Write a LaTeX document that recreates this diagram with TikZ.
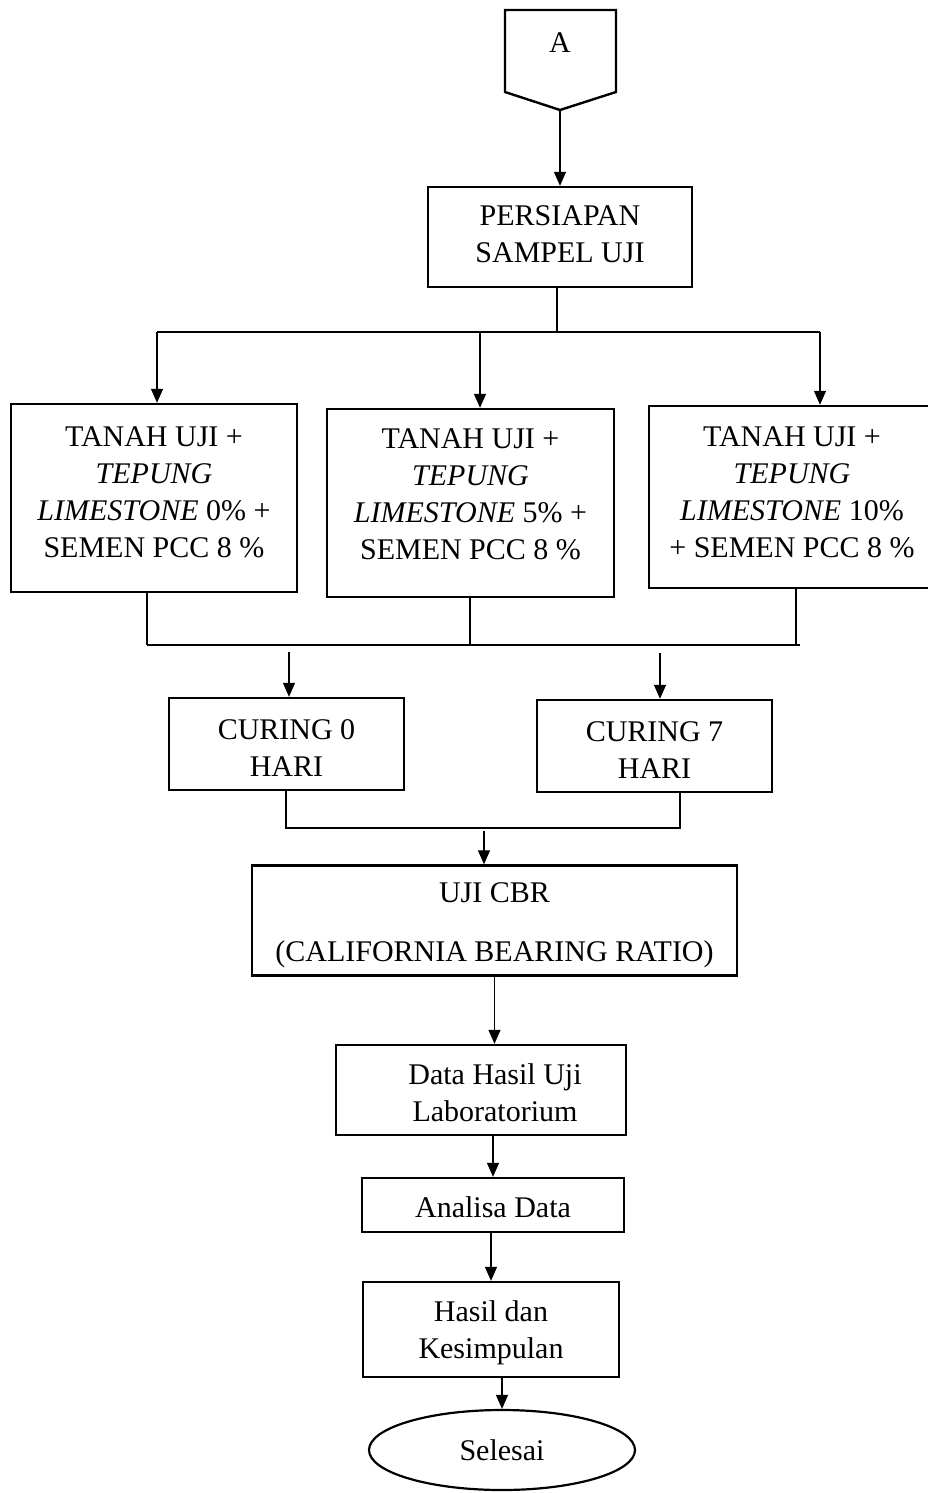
\documentclass[tikz,border=0pt]{standalone}
\usepackage{fontspec}
\setmainfont{Liberation Serif}
\usetikzlibrary{arrows.meta,shapes.geometric}
\newcommand\fsz{\fontsize{30}{37}\selectfont}
\tikzset{
  box/.style={draw, line width=2.4pt, inner sep=0pt},
  txt/.style={align=center, font=\fsz, inner sep=0pt},
  conn/.style={line width=1.3pt},
  arr/.style={conn, -{Triangle[length=14pt,width=12pt]}},
}
\begin{document}
\begin{tikzpicture}[x=1pt,y=-1pt]
\useasboundingbox[fill=white] (0,0) rectangle (927,1493);
% off-page connector A
\draw[line width=2.4pt, line join=miter] (505,10) -- (616,10) -- (616,92) -- (560,110) -- (505,92) -- cycle;
\node[txt] (A) at (560,43) {A};
\coordinate (Atip) at (560,110);
% boxes
\node[box, minimum width=264, minimum height=100] (persiapan) at (560,237) {};
\node[txt] (persiapant) at (560,234) {PERSIAPAN\\SAMPEL UJI};
\node[box, minimum width=286, minimum height=188] (b1) at (154,498) {};
\node[txt] (b1t) at (154,492) {TANAH UJI +\\\textit{TEPUNG}\\\textit{LIMESTONE} 0\% +\\SEMEN PCC 8 \%};
\node[box, minimum width=287, minimum height=188] (b2) at (470.5,503) {};
\node[txt] (b2t) at (470.5,494) {TANAH UJI +\\\textit{TEPUNG}\\\textit{LIMESTONE} 5\% +\\SEMEN PCC 8 \%};
\node[box, minimum width=282, minimum height=182] (b3) at (790,497) {};
\node[txt] (b3t) at (792,492) {TANAH UJI +\\\textit{TEPUNG}\\\textit{LIMESTONE} 10\%\\+ SEMEN PCC 8 \%};
\node[box, minimum width=235, minimum height=92] (cur0) at (286.5,744) {};
\node[txt] (cur0t) at (286.5,748) {CURING 0\\HARI};
\node[box, minimum width=235, minimum height=92] (cur7) at (654.5,746) {};
\node[txt] (cur7t) at (654.5,750) {CURING 7\\HARI};
\node[box, minimum width=485, minimum height=110] (uji) at (494.5,920.5) {};
\node[txt] (ujit) at (494.5,925.5) {UJI CBR\\[22pt](CALIFORNIA BEARING RATIO)};
\node[box, minimum width=290, minimum height=90] (data) at (481,1090) {};
\node[txt] (datat) at (495,1093) {Data Hasil Uji\\Laboratorium};
\node[box, minimum width=262, minimum height=54] (analisa) at (493,1205) {};
\node[txt] (analisat) at (493,1207) {Analisa Data};
\node[box, minimum width=256, minimum height=95] (hasil) at (491,1329.5) {};
\node[txt] (hasilt) at (491,1332.5) {Hasil dan\\Kesimpulan};
\node[box, ellipse, line width=2.2pt, minimum width=266, minimum height=80] (selesai) at (502,1450) {};
\node[txt] (selesait) at (502,1450) {Selesai};
% connectors
\draw[arr] (Atip) -- (persiapan.north);
\coordinate (j1) at (557,332);
\coordinate (jL) at (157,332);
\coordinate (jM) at (480,332);
\coordinate (jR) at (820,332);
\draw[conn] (j1 |- persiapan.south) -- (j1);
\draw[conn] (jL) -- (jR);
\draw[arr] (jL) -- (jL |- b1.north);
\draw[arr] (jM) -- (jM |- b2.north);
\draw[arr] (jR) -- (jR |- b3.north);
\coordinate (k1) at (147,645);
\coordinate (k2) at (470,645);
\coordinate (k3) at (796,645);
\coordinate (kR) at (800,645);
\draw[conn] (k1 |- b1.south) -- (k1);
\draw[conn] (k2 |- b2.south) -- (k2);
\draw[conn] (k3 |- b3.south) -- (k3);
\draw[line width=2pt] (k1) -- (kR);
\coordinate (c0) at (289,652);
\coordinate (c7) at (660,653);
\draw[arr] (c0) -- (c0 |- cur0.north);
\draw[arr] (c7) -- (c7 |- cur7.north);
\coordinate (m0) at (286,828);
\coordinate (m7) at (680,828);
\coordinate (mm) at (484,831);
\draw[conn] (m0 |- cur0.south) -- (m0) -- (m7) -- (m7 |- cur7.south);
\draw[arr] (mm) -- (mm |- uji.north);
\draw[arr] (uji.south) -- (uji.south |- data.north);
\draw[arr] (analisa.north |- data.south) -- (analisa.north);
\draw[arr] (hasil.north |- analisa.south) -- (hasil.north);
\draw[arr] (selesai.north |- hasil.south) -- (selesai.north);
\end{tikzpicture}
\end{document}
